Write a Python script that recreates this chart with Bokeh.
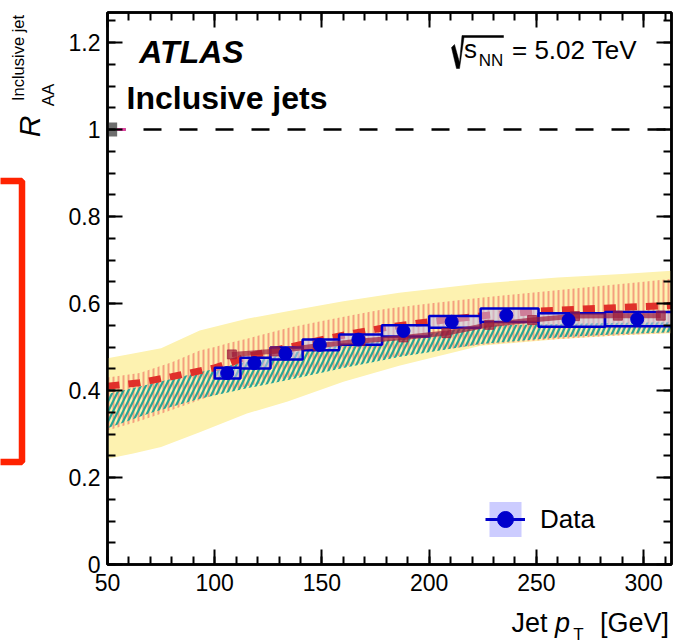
import numpy as np
from bokeh.plotting import figure
from bokeh.layouts import row, column
from bokeh.models import (Range1d, LinearAxis, FixedTicker, Label, Span, BoxAnnotation,
                          PolyAnnotation, Legend, LegendItem, CustomLabelingPolicy)
from bokeh.embed import file_html
from bokeh.resources import INLINE

FONT = "Liberation Sans"

# ---------------- data ----------------
bin_edges = [100, 112, 126, 141, 158, 178, 200, 224, 251, 282, 316]
data_pt = [105.8, 118.5, 133.0, 149.0, 167.0, 188.0, 210.5, 236.0, 265.0, 297.0]
data_raa = [0.440, 0.463, 0.485, 0.505, 0.517, 0.537, 0.558, 0.573, 0.562, 0.564]
data_sys = [0.0125, 0.0125, 0.014, 0.0125, 0.012, 0.013, 0.0135, 0.0155, 0.0155, 0.0165]

# yellow model band
yel_pt = [50, 62, 75, 93, 115, 134, 160, 186, 224, 260, 290, 315]
yel_hi = [0.474, 0.485, 0.497, 0.538, 0.565, 0.582, 0.605, 0.625, 0.646, 0.660, 0.668, 0.676]
yel_lo = [0.243, 0.255, 0.270, 0.304, 0.347, 0.375, 0.420, 0.457, 0.503, 0.518, 0.527, 0.532]

# red (vertical hatch) model band + central dashed curve
red_pt = [50, 65, 80, 93, 100, 107, 115, 135, 150, 165, 180, 200, 225, 250, 275, 300, 315]
red_mid = [0.410, 0.418, 0.432, 0.445, 0.452, 0.463, 0.478, 0.500, 0.517, 0.532, 0.545,
           0.558, 0.572, 0.582, 0.588, 0.593, 0.596]
red_hi = [0.430, 0.440, 0.465, 0.492, 0.500, 0.510, 0.519, 0.545, 0.560, 0.574, 0.588,
          0.600, 0.614, 0.626, 0.638, 0.650, 0.658]
red_lo = [0.308, 0.330, 0.355, 0.378, 0.390, 0.400, 0.410, 0.430, 0.445, 0.460, 0.475,
          0.490, 0.505, 0.515, 0.523, 0.530, 0.533]

# teal (diagonal hatch) model band
teal_pt = [50, 70, 93, 115, 137, 160, 186, 224, 260, 290, 315]
teal_hi = [0.392, 0.415, 0.442, 0.466, 0.488, 0.505, 0.519, 0.549, 0.553, 0.556, 0.557]
teal_lo = [0.313, 0.348, 0.381, 0.405, 0.427, 0.452, 0.477, 0.507, 0.522, 0.530, 0.534]

# maroon model curve with markers
mar_pt = [108, 128, 148, 168, 188, 208, 228, 248, 268, 288, 308]
mar_raa = [0.483, 0.490, 0.503, 0.514, 0.522, 0.532, 0.551, 0.562, 0.571, 0.572, 0.572]

# normalisation uncertainties at unity
norm_x = [50, 54.5]
norm_unc = 0.016
norm2_x = [54.5, 58.5]

x_major = [50, 100, 150, 200, 250, 300]
x_minor = list(range(50, 320, 10))
y_major = [0, 0.2, 0.4, 0.6, 0.8, 1.0, 1.2]
y_minor = [round(0.05 * i, 2) for i in range(0, 26)]

# ---------------- geometry (page pixels) ----------------
LEFT_W = 60          # width of the left strip (y title)
MAIN_H = 600         # height of main figure
FR_L, FR_B = 107, 564  # frame left / bottom on the page

# ---------------- main figure ----------------
p = figure(width=677 - LEFT_W, height=MAIN_H, x_range=Range1d(50, 313),
           y_range=Range1d(0, 1.269), output_backend="svg", toolbar_location=None,
           min_border_left=FR_L - LEFT_W, min_border_right=6, min_border_top=12,
           min_border_bottom=MAIN_H - FR_B)
p.grid.visible = False
p.outline_line_color = "black"
p.outline_line_width = 2.5
p.background_fill_color = "white"
p.border_fill_color = "white"


def style(ax, ticks, minor, labels=True):
    ax.ticker = FixedTicker(ticks=ticks, minor_ticks=minor)
    ax.axis_line_width = 2.5
    ax.axis_line_color = "black"
    ax.major_tick_in = 15
    ax.major_tick_out = 0
    ax.minor_tick_in = 8
    ax.minor_tick_out = 0
    ax.major_tick_line_width = 2
    ax.minor_tick_line_width = 2
    ax.major_label_text_font = FONT
    ax.major_label_text_color = "black"
    ax.major_label_text_font_size = "23px"
    if not labels:
        ax.major_label_policy = CustomLabelingPolicy(code="return new Set()")
        ax.major_label_text_font_size = "0px"
        ax.major_label_standoff = 0


style(p.xaxis[0], x_major, x_minor)
p.xaxis[0].major_label_standoff = 9
style(p.yaxis[0], y_major, y_minor)
p.yaxis[0].major_label_standoff = 7
p.yaxis[0].major_label_overrides = {0: "0", 0.2: "0.2", 0.4: "0.4", 0.6: "0.6",
                                    0.8: "0.8", 1: "1", 1.2: "1.2"}
top_ax = LinearAxis()
style(top_ax, x_major, x_minor, labels=False)
p.add_layout(top_ax, "above")
right_ax = LinearAxis()
style(right_ax, y_major, y_minor, labels=False)
p.add_layout(right_ax, "right")

# ---------------- glyphs ----------------
p.add_layout(Span(location=1, dimension="width", line_color="black", line_width=2.5,
                  line_dash="18 18", level="underlay"))

p.varea(x=yel_pt, y1=yel_lo, y2=yel_hi, fill_color="#fdf2b0")
p.varea(x=red_pt, y1=red_lo, y2=red_hi, fill_alpha=0, hatch_pattern="|",
        hatch_color="#f4a07e", hatch_scale=5, hatch_weight=2)
p.varea(x=teal_pt, y1=teal_lo, y2=teal_hi, fill_alpha=0, hatch_pattern="/",
        hatch_color="#2aa596", hatch_scale=10, hatch_weight=2.2)
p.line(x=red_pt, y=red_mid, line_color="#e0302a", line_width=7, line_dash="12 9")

box_lo = [r - s for r, s in zip(data_raa, data_sys)]
box_hi = [r + s for r, s in zip(data_raa, data_sys)]
p.quad(left=bin_edges[:-1], right=bin_edges[1:], bottom=box_lo, top=box_hi,
       fill_color="#c0c0f4", fill_alpha=0.55, line_color="#0000cc", line_width=2.5)

p.line(x=mar_pt, y=mar_raa, line_color="#9c1c3c", line_width=5, line_alpha=0.7)
p.scatter(x=mar_pt, y=mar_raa, marker="square", size=9, color="#9c1c3c", alpha=0.7)

p.scatter(x=data_pt, y=data_raa, size=13, color="#0000cc")

p.quad(left=[norm_x[0]], right=[norm_x[1]], bottom=[1 - norm_unc], top=[1 + norm_unc],
       fill_color="#555555", fill_alpha=0.85, line_color=None)
p.line(x=norm2_x, y=[1, 1], line_color="#e040a0", line_width=3)

# legend (renderers with no visible points)
nan = [float("nan")]
lg_box = p.quad(left=nan, right=nan, top=nan, bottom=nan, fill_color="#ccccff",
                line_color=None)
lg_line = p.line(x=nan, y=nan, line_color="#0000cc", line_width=3)
lg_dot = p.scatter(x=nan, y=nan, size=13, color="#0000cc")
legend = Legend(items=[LegendItem(label="Data", renderers=[lg_box, lg_line, lg_dot])],
                location=(378, 23), margin=0, padding=0, glyph_width=40, glyph_height=44,
                label_standoff=15, label_text_font=FONT, label_text_font_size="26px",
                label_text_color="black", border_line_color=None, background_fill_alpha=0)
p.add_layout(legend)


# ---------------- texts ----------------
def lab(fig, x, y, text, size, style="normal", angle=0.0):
    fig.add_layout(Label(x=x, y=y, x_units="screen", y_units="screen", text=text,
                         text_font=FONT, text_font_size=size, text_font_style=style,
                         text_align="center", text_baseline="middle", angle=angle,
                         text_color="black"))


def mp(cx, cy):  # page pixel -> frame screen coords (frames are aligned in the row)
    return cx - FR_L, FR_B - cy


lab(p, *mp(191, 51.5), "ATLAS", "32px", "bold italic")
lab(p, *mp(226.5, 97), "Inclusive jets", "32px", "bold")

rad = [(451, 47), (454, 44), (459, 62), (461.5, 35), (503, 35), (503, 37), (463.5, 37),
       (459, 68), (456, 68)]
p.add_layout(PolyAnnotation(xs=[mp(*q)[0] for q in rad], ys=[mp(*q)[1] for q in rad],
                            xs_units="screen", ys_units="screen", fill_color="black",
                            fill_alpha=1, line_color="black", line_alpha=1,
                            line_width=0.5))
lab(p, *mp(470, 48.4), "s", "26px")
lab(p, *mp(490.5, 59.5), "NN", "17px")
lab(p, *mp(574, 49), "= 5.02 TeV", "26px")

# ---------------- left strip: y title + fragment of neighbouring panel ----------------
pl = figure(width=LEFT_W, height=MAIN_H, x_range=Range1d(0, LEFT_W), y_range=Range1d(0, MAIN_H),
            x_axis_type=None, y_axis_type=None, output_backend="svg", toolbar_location=None,
            min_border=0, outline_line_color=None)
pl.grid.visible = False
pl.border_fill_color = "white"


def lp(cx, cy):  # the strip's frame is aligned with the main frame (bottom at 564)
    return cx, FR_B - cy


lab(pl, *lp(29, 126), "R", "30px", "italic", angle=np.pi / 2)
lab(pl, *lp(48, 94.5), "AA", "17px", angle=np.pi / 2)
lab(pl, *lp(17.5, 57.5), "Inclusive jet", "16.5px", angle=np.pi / 2)
pl.add_layout(BoxAnnotation(left=-50, right=21.5, top=FR_B - 180.5, bottom=FR_B - 461.5,
                            left_units="screen", right_units="screen", top_units="screen",
                            bottom_units="screen", fill_alpha=0, line_color="#ff2200",
                            line_alpha=1, line_width=6.5))

# ---------------- bottom strip: x title ----------------
BOT_H = 644 - MAIN_H
pb = figure(width=677, height=BOT_H, x_range=Range1d(0, 677), y_range=Range1d(0, BOT_H),
            x_axis_type=None, y_axis_type=None, output_backend="svg", toolbar_location=None,
            min_border=0, outline_line_color=None)
pb.grid.visible = False
pb.border_fill_color = "white"


def bp(cx, cy):
    return cx, 644 - cy


lab(pb, *bp(529, 622), "Jet", "27px")
lab(pb, *bp(562, 622), "p", "27px", "italic")
lab(pb, *bp(578, 634), "T", "17px")
lab(pb, *bp(634, 622), "[GeV]", "27px")

layout = column(row(pl, p), pb)
open("out.html", "w").write(file_html(layout, INLINE))
